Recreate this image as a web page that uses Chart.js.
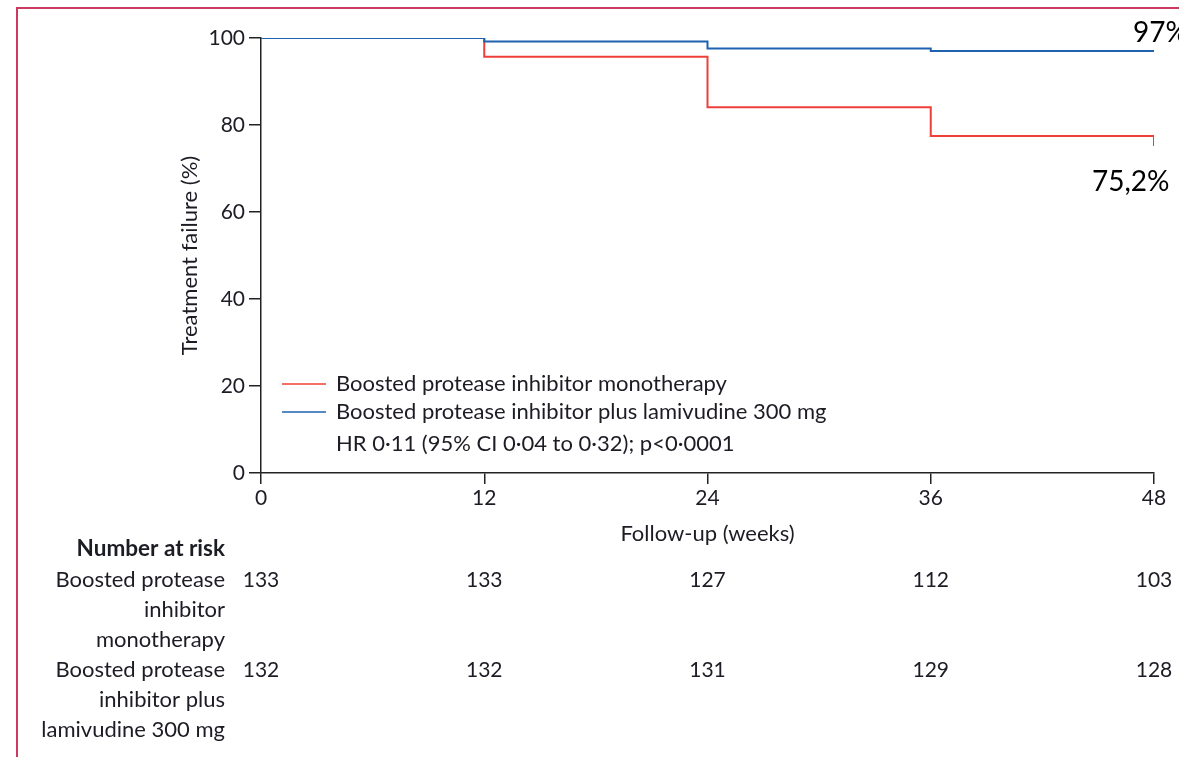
<!DOCTYPE html>
<html><head><meta charset="utf-8">
<script src="https://cdn.jsdelivr.net/npm/chart.js@4/dist/chart.umd.min.js"></script>
<style>html,body{margin:0;padding:0;background:#fff;overflow:hidden}#wrap{width:1179px;height:757px;position:relative}</style>
</head><body><div id="wrap"><canvas id="c" width="1179" height="757"></canvas></div>
<script>
// ---- data ----
const weeks = [0, 12, 24, 36, 48];
const monoFailure = [100, 95.7, 84.1, 77.5, 75.2];
const lamFailure = [100, 99.2, 97.6, 97.0, 97.0];
const seriesNames = ['Boosted protease inhibitor monotherapy', 'Boosted protease inhibitor plus lamivudine 300 mg'];
const statText = 'HR 0·11 (95% CI 0·04 to 0·32); p<0·0001';
const xTickValues = [0, 12, 24, 36, 48];
const yTickValues = [0, 20, 40, 60, 80, 100];
const atRiskTitle = 'Number at risk';
const atRiskMono = [133, 133, 127, 112, 103];
const atRiskLam = [132, 132, 131, 129, 128];
const atRiskLabelsMono = ['Boosted protease', 'inhibitor', 'monotherapy'];
const atRiskLabelsLam = ['Boosted protease', 'inhibitor plus', 'lamivudine 300 mg'];
const endLabels = ['97%', '75,2%'];
const endValues = [97, 75.2];

const RED = '#ee3f38', BLUE = '#1f62b0', AXIS = '#222', TXT = '#1c1c24';
const FONT = 'Lato, "Open Sans", sans-serif';

const extras = {
  id: 'extras',
  beforeDraw(chart) {
    const ctx = chart.ctx;
    ctx.save();
    ctx.strokeStyle = '#cc3a62';
    ctx.lineWidth = 2;
    ctx.strokeRect(17, 8, 1200, 800);
    ctx.restore();
  },
  afterDraw(chart) {
    const ctx = chart.ctx;
    const xs = chart.scales.x, ys = chart.scales.y;
    ctx.save();
    // legend
    ctx.font = '22px ' + FONT;
    ctx.fillStyle = TXT;
    ctx.textBaseline = 'middle';
    ctx.textAlign = 'left';
    const legY = [384, 412];
    chart.data.datasets.forEach((ds, i) => {
      ctx.strokeStyle = ds.borderColor;
      ctx.lineWidth = 1.5;
      ctx.beginPath(); ctx.moveTo(282, legY[i]); ctx.lineTo(326, legY[i]); ctx.stroke();
      ctx.fillText(ds.label, 336, legY[i]);
    });
    ctx.fillText(statText, 336, 444);

    // number at risk
    ctx.textAlign = 'right';
    ctx.font = 'bold 22.5px ' + FONT;
    ctx.fillText(atRiskTitle, 225, 549);
    ctx.font = '22px ' + FONT;
    atRiskLabelsMono.forEach((t, i) => ctx.fillText(t, 225, 580 + i * 30));
    atRiskLabelsLam.forEach((t, i) => ctx.fillText(t, 225, 670 + i * 30));
    ctx.font = '21px ' + FONT;
    ctx.textAlign = 'center';
    weeks.forEach((w, i) => {
      const px = xs.getPixelForValue(w);
      ctx.fillText(String(atRiskMono[i]), px, 580);
      ctx.fillText(String(atRiskLam[i]), px, 670);
    });

    // end annotations
    ctx.fillStyle = '#000';
    ctx.font = '28px ' + FONT;
    ctx.textAlign = 'left';
    const xe = xs.getPixelForValue(weeks[weeks.length - 1]);
    ctx.fillText(endLabels[0], xe - 21, ys.getPixelForValue(endValues[0]) - 18);
    ctx.fillText(endLabels[1], xe - 62, ys.getPixelForValue(endValues[1]) + 36);
    ctx.restore();
  }
};

const toPts = (ys) => weeks.map((w, i) => ({x: w, y: ys[i]}));

new Chart(document.getElementById('c'), {
  type: 'line',
  data: {
    datasets: [
      {label: seriesNames[0], data: toPts(monoFailure), borderColor: RED, borderWidth: 2, stepped: true, pointRadius: 0, fill: false, order: 1},
      {label: seriesNames[1], data: toPts(lamFailure), borderColor: BLUE, borderWidth: 2, stepped: true, pointRadius: 0, fill: false, order: 0}
    ]
  },
  options: {
    responsive: false,
    animation: false,
    devicePixelRatio: 1,
    layout: {padding: {top: 38, right: 25, left: 0, bottom: 0}},
    plugins: {legend: {display: false}, tooltip: {enabled: false}},
    scales: {
      x: {
        type: 'linear', min: 0, max: 48,
        afterBuildTicks: (s) => { s.ticks = xTickValues.map(v => ({value: v})); },
        afterFit: (s) => { s.height = 284; },
        grid: {drawOnChartArea: false, drawTicks: true, tickLength: 11, color: AXIS, lineWidth: 1.5},
        border: {color: AXIS, width: 1.5},
        ticks: {color: TXT, font: {family: FONT, size: 21}, padding: 2, maxRotation: 0},
        title: {display: true, text: 'Follow-up (weeks)', color: TXT, font: {family: FONT, size: 22}, padding: {top: 0, bottom: 210}}
      },
      y: {
        type: 'linear', min: 0, max: 100,
        afterBuildTicks: (s) => { s.ticks = yTickValues.map(v => ({value: v})); },
        afterFit: (s) => { s.width = 261; },
        grid: {drawOnChartArea: false, drawTicks: true, tickLength: 12, color: AXIS, lineWidth: 1.5},
        border: {color: AXIS, width: 1.5},
        ticks: {color: TXT, font: {family: FONT, size: 21}, padding: 4},
        title: {display: true, text: 'Treatment failure (%)', color: TXT, font: {family: FONT, size: 22}, padding: {top: 177, bottom: 0}}
      }
    }
  },
  plugins: [extras]
});
</script>
</body></html>
